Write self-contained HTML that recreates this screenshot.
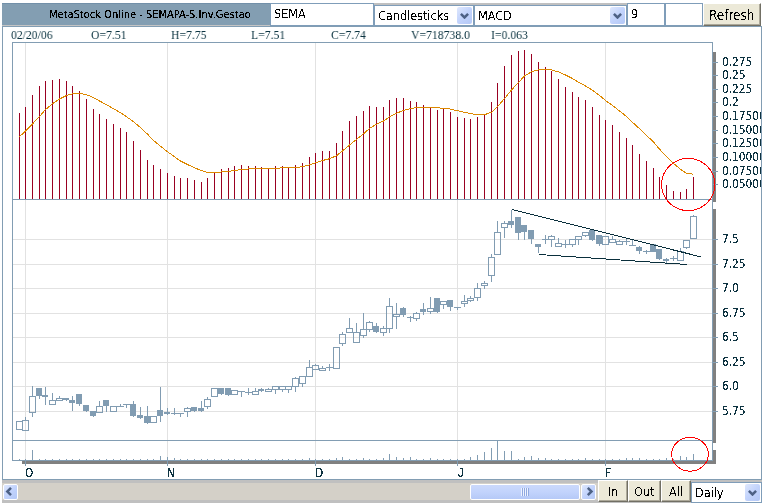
<!DOCTYPE html>
<html><head><meta charset="utf-8"><title>MetaStock Online - SEMAPA-S.Inv.Gestao</title>
<style>
*{box-sizing:border-box}
html,body{margin:0;padding:0;background:#fff}
body{width:765px;height:504px;position:relative;overflow:hidden;font-family:"DejaVu Sans Condensed","DejaVu Sans","Liberation Sans",sans-serif;}
.abs{position:absolute}
.tx{filter:url(#crisp);will-change:transform}
.title{left:2px;top:3px;width:268px;height:22px;background:#839eb2;border-top:1px solid #7290a9;font-size:11px;color:#000;}
.title span{position:absolute;left:47px;top:4px;white-space:nowrap}
.tf{background:#fff;border:1px solid #7f9db9;font-size:12.5px;color:#000}
.tf span{position:absolute;left:3px;top:2px}
.sel{background:#fff;border:1px solid #7f9db9;font-size:12.5px;color:#000}
.sel span.t{position:absolute;left:3px;top:2px;white-space:nowrap}
.dd{position:absolute;width:15px;height:17px;border-radius:2px;background:linear-gradient(135deg,#dfe8fd 0%,#c2d3fc 50%,#b4c8f6 100%);}
.dd svg{position:absolute;left:3px;top:6px}
.btn{background:#ece9d8;border-top:1px solid #fff;border-left:1px solid #fff;border-right:1px solid #716f64;border-bottom:1px solid #716f64;box-shadow:inset -1px -1px 0 #aca899;font-size:12.5px;color:#000;text-align:center}
svg text{font-family:"DejaVu Sans Condensed","DejaVu Sans",sans-serif;font-size:11.8px;fill:#0b3340}
.info{will-change:transform;transform:scaleX(0.9);transform-origin:0 0;font-family:"Liberation Serif",serif;font-size:13px;color:#0b3340;top:27px;white-space:nowrap}
</style></head><body>
<svg width="0" height="0" style="position:absolute"><filter id="crisp" x="0" y="0" width="100%" height="100%"><feComponentTransfer><feFuncA type="discrete" tableValues="0 1"/></feComponentTransfer></filter><filter id="crisp3" x="0" y="0" width="100%" height="100%"><feComponentTransfer><feFuncA type="discrete" tableValues="0 0 1 1 1"/></feComponentTransfer></filter></svg>
<div class="abs" style="left:374px;top:3px;width:253px;height:2px;background:#c0c0c0"></div>
<div class="abs" style="left:2px;top:25px;width:268px;height:1px;background:#c4c4c4"></div>
<div class="abs title"><span class="tx" style="filter:url(#crisp3)">MetaStock Online - SEMAPA-S.Inv.Gestao</span></div>
<div class="abs tf" style="left:270px;top:3px;width:104px;height:23px"><span class="tx">SEMA</span></div>
<div class="abs sel" style="left:374px;top:5px;width:100px;height:21px"><span class="t tx">Candlesticks</span>
 <div class="dd" style="left:82px;top:1px"><svg width="9" height="6" viewBox="0 0 9 6"><path d="M0.9 0.9 L4.5 4.5 L8.1 0.9" fill="none" stroke="#4d6185" stroke-width="2.5"/></svg></div></div>
<div class="abs sel" style="left:474px;top:5px;width:153px;height:21px"><span class="t tx">MACD</span>
 <div class="dd" style="left:135px;top:1px"><svg width="9" height="6" viewBox="0 0 9 6"><path d="M0.9 0.9 L4.5 4.5 L8.1 0.9" fill="none" stroke="#4d6185" stroke-width="2.5"/></svg></div></div>
<div class="abs tf" style="left:627px;top:3px;width:38px;height:23px"><span class="tx">9</span></div>
<div class="abs tf" style="left:665px;top:3px;width:38px;height:23px"></div>
<div class="abs btn" style="left:703px;top:3px;width:58px;height:23px;line-height:24px;font-size:13.4px"><span class="tx" style="display:inline-block">Refresh</span></div>
<div class="abs" style="left:2px;top:26px;width:760px;height:454px;border:1px solid #829db3;background:#fff"></div>
<div class="abs info" style="left:11px">02/20/06</div>
<div class="abs info" style="left:91px">O=7.51</div>
<div class="abs info" style="left:171px">H=7.75</div>
<div class="abs info" style="left:251px">L=7.51</div>
<div class="abs info" style="left:331px">C=7.74</div>
<div class="abs info" style="left:411px">V=718738.0</div>
<div class="abs info" style="left:491px">I=0.063</div>
<svg class="abs" style="left:0;top:0" width="765" height="504" viewBox="0 0 765 504" shape-rendering="crispEdges">
<rect x="713" y="52" width="3" height="150" fill="#808080"/>
<rect x="713" y="209" width="3" height="234" fill="#808080"/>
<rect x="713" y="450" width="3" height="14" fill="#808080"/>
<rect x="22" y="461" width="694" height="3" fill="#808080"/>
<rect x="25" y="43" width="1" height="156" fill="#e2e2e2"/>
<rect x="25" y="200" width="1" height="240" fill="#e2e2e2"/>
<rect x="25" y="441" width="1" height="19" fill="#e2e2e2"/>
<rect x="167" y="43" width="1" height="156" fill="#e2e2e2"/>
<rect x="167" y="200" width="1" height="240" fill="#e2e2e2"/>
<rect x="167" y="441" width="1" height="19" fill="#e2e2e2"/>
<rect x="315" y="43" width="1" height="156" fill="#e2e2e2"/>
<rect x="315" y="200" width="1" height="240" fill="#e2e2e2"/>
<rect x="315" y="441" width="1" height="19" fill="#e2e2e2"/>
<rect x="457" y="43" width="1" height="156" fill="#e2e2e2"/>
<rect x="457" y="200" width="1" height="240" fill="#e2e2e2"/>
<rect x="457" y="441" width="1" height="19" fill="#e2e2e2"/>
<rect x="605" y="43" width="1" height="156" fill="#e2e2e2"/>
<rect x="605" y="200" width="1" height="240" fill="#e2e2e2"/>
<rect x="605" y="441" width="1" height="19" fill="#e2e2e2"/>
<rect x="13" y="239" width="699" height="1" fill="#e2e2e2"/>
<rect x="13" y="264" width="699" height="1" fill="#e2e2e2"/>
<rect x="13" y="288" width="699" height="1" fill="#e2e2e2"/>
<rect x="13" y="313" width="699" height="1" fill="#e2e2e2"/>
<rect x="13" y="337" width="699" height="1" fill="#e2e2e2"/>
<rect x="13" y="362" width="699" height="1" fill="#e2e2e2"/>
<rect x="13" y="386" width="699" height="1" fill="#e2e2e2"/>
<rect x="13" y="411" width="699" height="1" fill="#e2e2e2"/>
<rect x="19" y="113" width="1" height="86" fill="#990022"/>
<rect x="25" y="107" width="1" height="92" fill="#990022"/>
<rect x="32" y="95" width="1" height="104" fill="#990022"/>
<rect x="39" y="86" width="1" height="113" fill="#990022"/>
<rect x="45" y="81" width="1" height="118" fill="#990022"/>
<rect x="52" y="80" width="1" height="119" fill="#990022"/>
<rect x="59" y="79" width="1" height="120" fill="#990022"/>
<rect x="66" y="81" width="1" height="118" fill="#990022"/>
<rect x="72" y="86" width="1" height="113" fill="#990022"/>
<rect x="79" y="91" width="1" height="108" fill="#990022"/>
<rect x="86" y="99" width="1" height="100" fill="#990022"/>
<rect x="93" y="109" width="1" height="90" fill="#990022"/>
<rect x="99" y="114" width="1" height="85" fill="#990022"/>
<rect x="106" y="119" width="1" height="80" fill="#990022"/>
<rect x="113" y="124" width="1" height="75" fill="#990022"/>
<rect x="120" y="128" width="1" height="71" fill="#990022"/>
<rect x="126" y="132" width="1" height="67" fill="#990022"/>
<rect x="133" y="141" width="1" height="58" fill="#990022"/>
<rect x="140" y="150" width="1" height="49" fill="#990022"/>
<rect x="147" y="160" width="1" height="39" fill="#990022"/>
<rect x="153" y="165" width="1" height="34" fill="#990022"/>
<rect x="160" y="169" width="1" height="30" fill="#990022"/>
<rect x="167" y="173" width="1" height="26" fill="#990022"/>
<rect x="174" y="176" width="1" height="23" fill="#990022"/>
<rect x="180" y="178" width="1" height="21" fill="#990022"/>
<rect x="187" y="178" width="1" height="21" fill="#990022"/>
<rect x="194" y="180" width="1" height="19" fill="#990022"/>
<rect x="201" y="182" width="1" height="17" fill="#990022"/>
<rect x="207" y="178" width="1" height="21" fill="#990022"/>
<rect x="214" y="173" width="1" height="26" fill="#990022"/>
<rect x="221" y="169" width="1" height="30" fill="#990022"/>
<rect x="228" y="168" width="1" height="31" fill="#990022"/>
<rect x="234" y="166" width="1" height="33" fill="#990022"/>
<rect x="241" y="165" width="1" height="34" fill="#990022"/>
<rect x="248" y="166" width="1" height="33" fill="#990022"/>
<rect x="255" y="166" width="1" height="33" fill="#990022"/>
<rect x="261" y="167" width="1" height="32" fill="#990022"/>
<rect x="268" y="168" width="1" height="31" fill="#990022"/>
<rect x="275" y="166" width="1" height="33" fill="#990022"/>
<rect x="282" y="166" width="1" height="33" fill="#990022"/>
<rect x="288" y="168" width="1" height="31" fill="#990022"/>
<rect x="295" y="165" width="1" height="34" fill="#990022"/>
<rect x="302" y="163" width="1" height="36" fill="#990022"/>
<rect x="309" y="157" width="1" height="42" fill="#990022"/>
<rect x="315" y="153" width="1" height="46" fill="#990022"/>
<rect x="322" y="151" width="1" height="48" fill="#990022"/>
<rect x="329" y="151" width="1" height="48" fill="#990022"/>
<rect x="336" y="143" width="1" height="56" fill="#990022"/>
<rect x="342" y="131" width="1" height="68" fill="#990022"/>
<rect x="349" y="121" width="1" height="78" fill="#990022"/>
<rect x="356" y="116" width="1" height="83" fill="#990022"/>
<rect x="363" y="111" width="1" height="88" fill="#990022"/>
<rect x="369" y="106" width="1" height="93" fill="#990022"/>
<rect x="376" y="107" width="1" height="92" fill="#990022"/>
<rect x="383" y="107" width="1" height="92" fill="#990022"/>
<rect x="389" y="100" width="1" height="99" fill="#990022"/>
<rect x="396" y="98" width="1" height="101" fill="#990022"/>
<rect x="403" y="98" width="1" height="101" fill="#990022"/>
<rect x="410" y="101" width="1" height="98" fill="#990022"/>
<rect x="416" y="102" width="1" height="97" fill="#990022"/>
<rect x="423" y="105" width="1" height="94" fill="#990022"/>
<rect x="430" y="107" width="1" height="92" fill="#990022"/>
<rect x="437" y="110" width="1" height="89" fill="#990022"/>
<rect x="443" y="109" width="1" height="90" fill="#990022"/>
<rect x="450" y="112" width="1" height="87" fill="#990022"/>
<rect x="457" y="117" width="1" height="82" fill="#990022"/>
<rect x="464" y="118" width="1" height="81" fill="#990022"/>
<rect x="470" y="119" width="1" height="80" fill="#990022"/>
<rect x="477" y="117" width="1" height="82" fill="#990022"/>
<rect x="484" y="115" width="1" height="84" fill="#990022"/>
<rect x="491" y="102" width="1" height="97" fill="#990022"/>
<rect x="497" y="83" width="1" height="116" fill="#990022"/>
<rect x="504" y="66" width="1" height="133" fill="#990022"/>
<rect x="511" y="55" width="1" height="144" fill="#990022"/>
<rect x="518" y="51" width="1" height="148" fill="#990022"/>
<rect x="524" y="50" width="1" height="149" fill="#990022"/>
<rect x="531" y="54" width="1" height="145" fill="#990022"/>
<rect x="538" y="62" width="1" height="137" fill="#990022"/>
<rect x="545" y="67" width="1" height="132" fill="#990022"/>
<rect x="551" y="71" width="1" height="128" fill="#990022"/>
<rect x="558" y="79" width="1" height="120" fill="#990022"/>
<rect x="565" y="87" width="1" height="112" fill="#990022"/>
<rect x="572" y="92" width="1" height="107" fill="#990022"/>
<rect x="578" y="97" width="1" height="102" fill="#990022"/>
<rect x="585" y="100" width="1" height="99" fill="#990022"/>
<rect x="592" y="107" width="1" height="92" fill="#990022"/>
<rect x="599" y="115" width="1" height="84" fill="#990022"/>
<rect x="605" y="120" width="1" height="79" fill="#990022"/>
<rect x="612" y="125" width="1" height="74" fill="#990022"/>
<rect x="619" y="132" width="1" height="67" fill="#990022"/>
<rect x="626" y="138" width="1" height="61" fill="#990022"/>
<rect x="632" y="145" width="1" height="54" fill="#990022"/>
<rect x="639" y="154" width="1" height="45" fill="#990022"/>
<rect x="646" y="161" width="1" height="38" fill="#990022"/>
<rect x="653" y="168" width="1" height="31" fill="#990022"/>
<rect x="659" y="177" width="1" height="22" fill="#990022"/>
<rect x="666" y="185" width="1" height="14" fill="#990022"/>
<rect x="673" y="191" width="1" height="8" fill="#990022"/>
<rect x="680" y="192" width="1" height="7" fill="#990022"/>
<rect x="686" y="189" width="1" height="10" fill="#990022"/>
<rect x="693" y="177" width="1" height="22" fill="#990022"/>
<polyline points="19.5,136.75 25.5,130.93 32.5,123.89 39.5,116.47 45.5,109.54 52.5,103.80 59.5,98.99 66.5,95.56 72.5,93.80 79.5,93.41 86.5,94.66 93.5,97.62 99.5,101.00 106.5,104.71 113.5,108.72 120.5,112.73 126.5,116.71 133.5,121.74 140.5,127.54 147.5,134.16 153.5,140.46 160.5,146.28 167.5,151.73 174.5,156.70 180.5,161.07 187.5,164.56 194.5,167.76 201.5,170.70 207.5,172.31 214.5,172.56 221.5,172.00 228.5,171.37 234.5,170.46 241.5,169.50 248.5,168.97 255.5,168.55 261.5,168.41 268.5,168.50 275.5,168.17 282.5,167.90 288.5,167.97 295.5,167.51 302.5,166.78 309.5,164.95 315.5,162.69 322.5,160.50 329.5,158.75 336.5,155.73 342.5,150.88 349.5,145.05 356.5,139.39 363.5,133.86 369.5,128.44 376.5,124.28 383.5,120.96 389.5,116.91 396.5,113.26 403.5,110.34 410.5,108.62 416.5,107.43 423.5,107.05 430.5,107.17 437.5,107.85 443.5,108.19 450.5,109.08 457.5,110.75 464.5,112.27 470.5,113.69 477.5,114.48 484.5,114.69 491.5,112.29 497.5,106.58 504.5,98.57 511.5,90.03 518.5,82.37 524.5,76.03 531.5,71.75 538.5,69.95 545.5,69.47 551.5,69.93 558.5,71.87 565.5,75.01 572.5,78.56 578.5,82.35 585.5,85.95 592.5,90.29 599.5,95.38 605.5,100.46 612.5,105.48 619.5,110.91 626.5,116.46 632.5,122.28 639.5,128.73 646.5,135.34 653.5,142.04 659.5,149.16 666.5,156.44 673.5,163.44 680.5,169.28 686.5,173.38 693.5,174.23" fill="none" stroke="#dd8800" stroke-width="1" shape-rendering="crispEdges"/>
<rect x="16.5" y="421.5" width="6" height="8" fill="none" stroke="#819cb2" stroke-width="1"/>
<rect x="25" y="417" width="1" height="3" fill="#819cb2"/>
<rect x="22.5" y="420.5" width="6" height="10" fill="none" stroke="#819cb2" stroke-width="1"/>
<rect x="32" y="386" width="1" height="10" fill="#819cb2"/>
<rect x="32" y="413" width="1" height="4" fill="#819cb2"/>
<rect x="29.5" y="396.5" width="6" height="16" fill="none" stroke="#819cb2" stroke-width="1"/>
<rect x="39" y="388" width="1" height="11" fill="#819cb2"/>
<rect x="36" y="388" width="6" height="8" fill="#819cb2"/>
<rect x="45" y="387" width="1" height="18" fill="#819cb2"/>
<rect x="42" y="395" width="6" height="2" fill="#819cb2"/>
<rect x="52" y="393" width="1" height="7" fill="#819cb2"/>
<rect x="49.5" y="400.5" width="6" height="4" fill="none" stroke="#819cb2" stroke-width="1"/>
<rect x="59" y="396" width="1" height="2" fill="#819cb2"/>
<rect x="56.5" y="398.5" width="6" height="2" fill="none" stroke="#819cb2" stroke-width="1"/>
<rect x="66" y="398" width="1" height="3" fill="#819cb2"/>
<rect x="63" y="398" width="6" height="2" fill="#819cb2"/>
<rect x="72" y="396" width="1" height="15" fill="#819cb2"/>
<rect x="69" y="400" width="6" height="3" fill="#819cb2"/>
<rect x="79" y="394" width="1" height="12" fill="#819cb2"/>
<rect x="76" y="394" width="6" height="10" fill="#819cb2"/>
<rect x="86" y="405" width="1" height="7" fill="#819cb2"/>
<rect x="83" y="405" width="6" height="6" fill="#819cb2"/>
<rect x="93" y="411" width="1" height="6" fill="#819cb2"/>
<rect x="90" y="411" width="6" height="5" fill="#819cb2"/>
<rect x="99" y="401" width="1" height="5" fill="#819cb2"/>
<rect x="96.5" y="406.5" width="6" height="6" fill="none" stroke="#819cb2" stroke-width="1"/>
<rect x="106" y="400" width="1" height="12" fill="#819cb2"/>
<rect x="103" y="400" width="6" height="6" fill="#819cb2"/>
<rect x="110.5" y="406.5" width="6" height="5" fill="none" stroke="#819cb2" stroke-width="1"/>
<rect x="120" y="404" width="1" height="2" fill="#819cb2"/>
<rect x="117" y="406" width="7" height="1" fill="#819cb2"/>
<rect x="126" y="404" width="1" height="4" fill="#819cb2"/>
<rect x="123" y="404" width="7" height="1" fill="#819cb2"/>
<rect x="133" y="401" width="1" height="16" fill="#819cb2"/>
<rect x="130" y="404" width="6" height="12" fill="#819cb2"/>
<rect x="140" y="407" width="1" height="12" fill="#819cb2"/>
<rect x="137" y="415" width="6" height="3" fill="#819cb2"/>
<rect x="147" y="406" width="1" height="18" fill="#819cb2"/>
<rect x="144" y="416" width="6" height="7" fill="#819cb2"/>
<rect x="150.5" y="416.5" width="6" height="6" fill="none" stroke="#819cb2" stroke-width="1"/>
<rect x="160" y="387" width="1" height="35" fill="#819cb2"/>
<rect x="157" y="410" width="6" height="6" fill="#819cb2"/>
<rect x="167" y="408" width="1" height="7" fill="#819cb2"/>
<rect x="164" y="412" width="6" height="2" fill="#819cb2"/>
<rect x="174" y="408" width="1" height="7" fill="#819cb2"/>
<rect x="171" y="413" width="7" height="1" fill="#819cb2"/>
<rect x="180" y="413" width="1" height="4" fill="#819cb2"/>
<rect x="177" y="413" width="7" height="1" fill="#819cb2"/>
<rect x="187" y="407" width="1" height="1" fill="#819cb2"/>
<rect x="187" y="412" width="1" height="5" fill="#819cb2"/>
<rect x="184.5" y="408.5" width="6" height="3" fill="none" stroke="#819cb2" stroke-width="1"/>
<rect x="194" y="407" width="1" height="5" fill="#819cb2"/>
<rect x="191" y="407" width="6" height="4" fill="#819cb2"/>
<rect x="201" y="401" width="1" height="11" fill="#819cb2"/>
<rect x="198" y="408" width="6" height="3" fill="#819cb2"/>
<rect x="207" y="397" width="1" height="2" fill="#819cb2"/>
<rect x="207" y="407" width="1" height="2" fill="#819cb2"/>
<rect x="204.5" y="399.5" width="6" height="7" fill="none" stroke="#819cb2" stroke-width="1"/>
<rect x="211.5" y="388.5" width="6" height="8" fill="none" stroke="#819cb2" stroke-width="1"/>
<rect x="221" y="388" width="1" height="7" fill="#819cb2"/>
<rect x="218" y="388" width="6" height="6" fill="#819cb2"/>
<rect x="228" y="388" width="1" height="8" fill="#819cb2"/>
<rect x="225" y="388" width="6" height="7" fill="#819cb2"/>
<rect x="231.5" y="390.5" width="6" height="4" fill="none" stroke="#819cb2" stroke-width="1"/>
<rect x="241" y="391" width="1" height="6" fill="#819cb2"/>
<rect x="238" y="391" width="7" height="1" fill="#819cb2"/>
<rect x="248" y="388" width="1" height="7" fill="#819cb2"/>
<rect x="245" y="392" width="7" height="1" fill="#819cb2"/>
<rect x="255" y="388" width="1" height="3" fill="#819cb2"/>
<rect x="252.5" y="391.5" width="6" height="3" fill="none" stroke="#819cb2" stroke-width="1"/>
<rect x="261" y="388" width="1" height="4" fill="#819cb2"/>
<rect x="258" y="389" width="6" height="2" fill="#819cb2"/>
<rect x="268" y="388" width="1" height="1" fill="#819cb2"/>
<rect x="265.5" y="389.5" width="6" height="2" fill="none" stroke="#819cb2" stroke-width="1"/>
<rect x="275" y="390" width="1" height="4" fill="#819cb2"/>
<rect x="272.5" y="386.5" width="6" height="3" fill="none" stroke="#819cb2" stroke-width="1"/>
<rect x="282" y="390" width="1" height="2" fill="#819cb2"/>
<rect x="279.5" y="386.5" width="6" height="3" fill="none" stroke="#819cb2" stroke-width="1"/>
<rect x="288" y="390" width="1" height="3" fill="#819cb2"/>
<rect x="285.5" y="386.5" width="6" height="3" fill="none" stroke="#819cb2" stroke-width="1"/>
<rect x="295" y="377" width="1" height="1" fill="#819cb2"/>
<rect x="295" y="387" width="1" height="5" fill="#819cb2"/>
<rect x="292.5" y="378.5" width="6" height="8" fill="none" stroke="#819cb2" stroke-width="1"/>
<rect x="302" y="384" width="1" height="3" fill="#819cb2"/>
<rect x="299.5" y="376.5" width="6" height="7" fill="none" stroke="#819cb2" stroke-width="1"/>
<rect x="309" y="360" width="1" height="7" fill="#819cb2"/>
<rect x="306.5" y="367.5" width="6" height="9" fill="none" stroke="#819cb2" stroke-width="1"/>
<rect x="315" y="364" width="1" height="1" fill="#819cb2"/>
<rect x="312.5" y="365.5" width="6" height="4" fill="none" stroke="#819cb2" stroke-width="1"/>
<rect x="322" y="366" width="1" height="2" fill="#819cb2"/>
<rect x="319.5" y="368.5" width="6" height="2" fill="none" stroke="#819cb2" stroke-width="1"/>
<rect x="329" y="364" width="1" height="7" fill="#819cb2"/>
<rect x="326" y="367" width="7" height="1" fill="#819cb2"/>
<rect x="333.5" y="347.5" width="6" height="21" fill="none" stroke="#819cb2" stroke-width="1"/>
<rect x="342" y="332" width="1" height="2" fill="#819cb2"/>
<rect x="342" y="344" width="1" height="2" fill="#819cb2"/>
<rect x="339.5" y="334.5" width="6" height="9" fill="none" stroke="#819cb2" stroke-width="1"/>
<rect x="349" y="318" width="1" height="10" fill="#819cb2"/>
<rect x="346.5" y="328.5" width="6" height="4" fill="none" stroke="#819cb2" stroke-width="1"/>
<rect x="356" y="323" width="1" height="9" fill="#819cb2"/>
<rect x="353.5" y="332.5" width="6" height="10" fill="none" stroke="#819cb2" stroke-width="1"/>
<rect x="363" y="313" width="1" height="16" fill="#819cb2"/>
<rect x="363" y="336" width="1" height="2" fill="#819cb2"/>
<rect x="360.5" y="329.5" width="6" height="6" fill="none" stroke="#819cb2" stroke-width="1"/>
<rect x="369" y="321" width="1" height="1" fill="#819cb2"/>
<rect x="369" y="330" width="1" height="2" fill="#819cb2"/>
<rect x="366.5" y="322.5" width="6" height="7" fill="none" stroke="#819cb2" stroke-width="1"/>
<rect x="376" y="323" width="1" height="10" fill="#819cb2"/>
<rect x="373" y="326" width="6" height="6" fill="#819cb2"/>
<rect x="383" y="326" width="1" height="2" fill="#819cb2"/>
<rect x="383" y="333" width="1" height="3" fill="#819cb2"/>
<rect x="380.5" y="328.5" width="6" height="4" fill="none" stroke="#819cb2" stroke-width="1"/>
<rect x="389" y="298" width="1" height="8" fill="#819cb2"/>
<rect x="389" y="329" width="1" height="4" fill="#819cb2"/>
<rect x="386.5" y="306.5" width="6" height="22" fill="none" stroke="#819cb2" stroke-width="1"/>
<rect x="396" y="303" width="1" height="11" fill="#819cb2"/>
<rect x="396" y="317" width="1" height="12" fill="#819cb2"/>
<rect x="393.5" y="314.5" width="6" height="2" fill="none" stroke="#819cb2" stroke-width="1"/>
<rect x="403" y="307" width="1" height="10" fill="#819cb2"/>
<rect x="400" y="308" width="6" height="7" fill="#819cb2"/>
<rect x="410" y="316" width="1" height="6" fill="#819cb2"/>
<rect x="407" y="317" width="7" height="1" fill="#819cb2"/>
<rect x="416" y="312" width="1" height="1" fill="#819cb2"/>
<rect x="416" y="319" width="1" height="2" fill="#819cb2"/>
<rect x="413.5" y="313.5" width="6" height="5" fill="none" stroke="#819cb2" stroke-width="1"/>
<rect x="423" y="303" width="1" height="12" fill="#819cb2"/>
<rect x="420" y="309" width="6" height="3" fill="#819cb2"/>
<rect x="430" y="297" width="1" height="11" fill="#819cb2"/>
<rect x="430" y="312" width="1" height="2" fill="#819cb2"/>
<rect x="427.5" y="308.5" width="6" height="3" fill="none" stroke="#819cb2" stroke-width="1"/>
<rect x="437" y="298" width="1" height="15" fill="#819cb2"/>
<rect x="434" y="298" width="6" height="14" fill="#819cb2"/>
<rect x="443" y="305" width="1" height="4" fill="#819cb2"/>
<rect x="440.5" y="301.5" width="6" height="3" fill="none" stroke="#819cb2" stroke-width="1"/>
<rect x="450" y="300" width="1" height="11" fill="#819cb2"/>
<rect x="447" y="300" width="6" height="7" fill="#819cb2"/>
<rect x="457" y="307" width="1" height="3" fill="#819cb2"/>
<rect x="454" y="307" width="7" height="1" fill="#819cb2"/>
<rect x="464" y="295" width="1" height="6" fill="#819cb2"/>
<rect x="464" y="304" width="1" height="3" fill="#819cb2"/>
<rect x="461.5" y="301.5" width="6" height="2" fill="none" stroke="#819cb2" stroke-width="1"/>
<rect x="470" y="296" width="1" height="2" fill="#819cb2"/>
<rect x="470" y="301" width="1" height="1" fill="#819cb2"/>
<rect x="467.5" y="298.5" width="6" height="2" fill="none" stroke="#819cb2" stroke-width="1"/>
<rect x="477" y="283" width="1" height="5" fill="#819cb2"/>
<rect x="477" y="298" width="1" height="3" fill="#819cb2"/>
<rect x="474.5" y="288.5" width="6" height="9" fill="none" stroke="#819cb2" stroke-width="1"/>
<rect x="484" y="281" width="1" height="2" fill="#819cb2"/>
<rect x="484" y="286" width="1" height="3" fill="#819cb2"/>
<rect x="481.5" y="283.5" width="6" height="2" fill="none" stroke="#819cb2" stroke-width="1"/>
<rect x="491" y="254" width="1" height="3" fill="#819cb2"/>
<rect x="491" y="276" width="1" height="6" fill="#819cb2"/>
<rect x="488.5" y="257.5" width="6" height="18" fill="none" stroke="#819cb2" stroke-width="1"/>
<rect x="497" y="221" width="1" height="11" fill="#819cb2"/>
<rect x="494.5" y="232.5" width="6" height="22" fill="none" stroke="#819cb2" stroke-width="1"/>
<rect x="504" y="221" width="1" height="2" fill="#819cb2"/>
<rect x="504" y="228" width="1" height="10" fill="#819cb2"/>
<rect x="501.5" y="223.5" width="6" height="4" fill="none" stroke="#819cb2" stroke-width="1"/>
<rect x="511" y="210" width="1" height="18" fill="#819cb2"/>
<rect x="508" y="221" width="6" height="4" fill="#819cb2"/>
<rect x="518" y="217" width="1" height="23" fill="#819cb2"/>
<rect x="515" y="217" width="6" height="16" fill="#819cb2"/>
<rect x="524" y="225" width="1" height="15" fill="#819cb2"/>
<rect x="521" y="225" width="6" height="7" fill="#819cb2"/>
<rect x="531" y="230" width="1" height="14" fill="#819cb2"/>
<rect x="528" y="230" width="6" height="9" fill="#819cb2"/>
<rect x="538" y="244" width="1" height="9" fill="#819cb2"/>
<rect x="535" y="244" width="6" height="3" fill="#819cb2"/>
<rect x="545" y="235" width="1" height="9" fill="#819cb2"/>
<rect x="542" y="239" width="7" height="1" fill="#819cb2"/>
<rect x="551" y="235" width="1" height="1" fill="#819cb2"/>
<rect x="551" y="240" width="1" height="7" fill="#819cb2"/>
<rect x="548.5" y="236.5" width="6" height="3" fill="none" stroke="#819cb2" stroke-width="1"/>
<rect x="558" y="238" width="1" height="5" fill="#819cb2"/>
<rect x="555.5" y="243.5" width="6" height="3" fill="none" stroke="#819cb2" stroke-width="1"/>
<rect x="565" y="240" width="1" height="8" fill="#819cb2"/>
<rect x="562" y="244" width="7" height="1" fill="#819cb2"/>
<rect x="572" y="245" width="1" height="2" fill="#819cb2"/>
<rect x="569.5" y="239.5" width="6" height="5" fill="none" stroke="#819cb2" stroke-width="1"/>
<rect x="578" y="240" width="1" height="5" fill="#819cb2"/>
<rect x="575.5" y="236.5" width="6" height="3" fill="none" stroke="#819cb2" stroke-width="1"/>
<rect x="585" y="236" width="1" height="1" fill="#819cb2"/>
<rect x="582.5" y="232.5" width="6" height="3" fill="none" stroke="#819cb2" stroke-width="1"/>
<rect x="592" y="229" width="1" height="12" fill="#819cb2"/>
<rect x="589" y="230" width="6" height="10" fill="#819cb2"/>
<rect x="599" y="235" width="1" height="11" fill="#819cb2"/>
<rect x="596" y="235" width="6" height="9" fill="#819cb2"/>
<rect x="602.5" y="236.5" width="6" height="8" fill="none" stroke="#819cb2" stroke-width="1"/>
<rect x="612" y="236" width="1" height="3" fill="#819cb2"/>
<rect x="609.5" y="239.5" width="6" height="3" fill="none" stroke="#819cb2" stroke-width="1"/>
<rect x="619" y="240" width="1" height="1" fill="#819cb2"/>
<rect x="616.5" y="241.5" width="6" height="3" fill="none" stroke="#819cb2" stroke-width="1"/>
<rect x="626" y="238" width="1" height="7" fill="#819cb2"/>
<rect x="623" y="241" width="7" height="1" fill="#819cb2"/>
<rect x="632" y="239" width="1" height="7" fill="#819cb2"/>
<rect x="629" y="245" width="7" height="1" fill="#819cb2"/>
<rect x="639" y="246" width="1" height="8" fill="#819cb2"/>
<rect x="636" y="247" width="6" height="4" fill="#819cb2"/>
<rect x="646" y="250" width="1" height="4" fill="#819cb2"/>
<rect x="643" y="251" width="7" height="1" fill="#819cb2"/>
<rect x="653" y="244" width="1" height="8" fill="#819cb2"/>
<rect x="650" y="244" width="6" height="8" fill="#819cb2"/>
<rect x="659" y="249" width="1" height="11" fill="#819cb2"/>
<rect x="656" y="249" width="6" height="10" fill="#819cb2"/>
<rect x="666" y="258" width="1" height="5" fill="#819cb2"/>
<rect x="663" y="259" width="6" height="2" fill="#819cb2"/>
<rect x="673" y="256" width="1" height="5" fill="#819cb2"/>
<rect x="670" y="258" width="7" height="1" fill="#819cb2"/>
<rect x="680" y="248" width="1" height="3" fill="#819cb2"/>
<rect x="677.5" y="251.5" width="6" height="9" fill="none" stroke="#819cb2" stroke-width="1"/>
<rect x="686" y="248" width="1" height="1" fill="#819cb2"/>
<rect x="683.5" y="240.5" width="6" height="7" fill="none" stroke="#819cb2" stroke-width="1"/>
<rect x="693" y="215" width="1" height="1" fill="#819cb2"/>
<rect x="690.5" y="216.5" width="6" height="22" fill="none" stroke="#819cb2" stroke-width="1"/>
<line x1="512" y1="209.4" x2="701" y2="256.9" stroke="#0a2f3c" stroke-width="1" shape-rendering="crispEdges"/>
<line x1="539" y1="254.5" x2="687" y2="264.5" stroke="#0a2f3c" stroke-width="1" shape-rendering="crispEdges"/>
<rect x="19" y="459" width="1" height="1" fill="#829db3"/>
<rect x="25" y="459" width="1" height="1" fill="#829db3"/>
<rect x="32" y="450" width="1" height="10" fill="#829db3"/>
<rect x="39" y="459" width="1" height="1" fill="#829db3"/>
<rect x="45" y="459" width="1" height="1" fill="#829db3"/>
<rect x="52" y="459" width="1" height="1" fill="#829db3"/>
<rect x="59" y="459" width="1" height="1" fill="#829db3"/>
<rect x="66" y="459" width="1" height="1" fill="#829db3"/>
<rect x="72" y="459" width="1" height="1" fill="#829db3"/>
<rect x="79" y="459" width="1" height="1" fill="#829db3"/>
<rect x="86" y="459" width="1" height="1" fill="#829db3"/>
<rect x="93" y="459" width="1" height="1" fill="#829db3"/>
<rect x="99" y="459" width="1" height="1" fill="#829db3"/>
<rect x="106" y="459" width="1" height="1" fill="#829db3"/>
<rect x="113" y="459" width="1" height="1" fill="#829db3"/>
<rect x="120" y="459" width="1" height="1" fill="#829db3"/>
<rect x="126" y="459" width="1" height="1" fill="#829db3"/>
<rect x="133" y="459" width="1" height="1" fill="#829db3"/>
<rect x="140" y="459" width="1" height="1" fill="#829db3"/>
<rect x="147" y="459" width="1" height="1" fill="#829db3"/>
<rect x="153" y="459" width="1" height="1" fill="#829db3"/>
<rect x="160" y="456" width="1" height="4" fill="#829db3"/>
<rect x="167" y="457" width="1" height="3" fill="#829db3"/>
<rect x="174" y="458" width="1" height="2" fill="#829db3"/>
<rect x="180" y="459" width="1" height="1" fill="#829db3"/>
<rect x="187" y="459" width="1" height="1" fill="#829db3"/>
<rect x="194" y="459" width="1" height="1" fill="#829db3"/>
<rect x="201" y="459" width="1" height="1" fill="#829db3"/>
<rect x="207" y="459" width="1" height="1" fill="#829db3"/>
<rect x="214" y="459" width="1" height="1" fill="#829db3"/>
<rect x="221" y="459" width="1" height="1" fill="#829db3"/>
<rect x="228" y="459" width="1" height="1" fill="#829db3"/>
<rect x="234" y="459" width="1" height="1" fill="#829db3"/>
<rect x="241" y="459" width="1" height="1" fill="#829db3"/>
<rect x="248" y="459" width="1" height="1" fill="#829db3"/>
<rect x="255" y="459" width="1" height="1" fill="#829db3"/>
<rect x="261" y="459" width="1" height="1" fill="#829db3"/>
<rect x="268" y="459" width="1" height="1" fill="#829db3"/>
<rect x="275" y="459" width="1" height="1" fill="#829db3"/>
<rect x="282" y="459" width="1" height="1" fill="#829db3"/>
<rect x="288" y="459" width="1" height="1" fill="#829db3"/>
<rect x="295" y="459" width="1" height="1" fill="#829db3"/>
<rect x="302" y="459" width="1" height="1" fill="#829db3"/>
<rect x="309" y="458" width="1" height="2" fill="#829db3"/>
<rect x="315" y="459" width="1" height="1" fill="#829db3"/>
<rect x="322" y="459" width="1" height="1" fill="#829db3"/>
<rect x="329" y="459" width="1" height="1" fill="#829db3"/>
<rect x="336" y="458" width="1" height="2" fill="#829db3"/>
<rect x="342" y="457" width="1" height="3" fill="#829db3"/>
<rect x="349" y="459" width="1" height="1" fill="#829db3"/>
<rect x="356" y="459" width="1" height="1" fill="#829db3"/>
<rect x="363" y="458" width="1" height="2" fill="#829db3"/>
<rect x="369" y="459" width="1" height="1" fill="#829db3"/>
<rect x="376" y="459" width="1" height="1" fill="#829db3"/>
<rect x="383" y="458" width="1" height="2" fill="#829db3"/>
<rect x="389" y="454" width="1" height="6" fill="#829db3"/>
<rect x="396" y="457" width="1" height="3" fill="#829db3"/>
<rect x="403" y="458" width="1" height="2" fill="#829db3"/>
<rect x="410" y="457" width="1" height="3" fill="#829db3"/>
<rect x="416" y="459" width="1" height="1" fill="#829db3"/>
<rect x="423" y="459" width="1" height="1" fill="#829db3"/>
<rect x="430" y="458" width="1" height="2" fill="#829db3"/>
<rect x="437" y="459" width="1" height="1" fill="#829db3"/>
<rect x="443" y="459" width="1" height="1" fill="#829db3"/>
<rect x="450" y="459" width="1" height="1" fill="#829db3"/>
<rect x="457" y="459" width="1" height="1" fill="#829db3"/>
<rect x="464" y="459" width="1" height="1" fill="#829db3"/>
<rect x="470" y="457" width="1" height="3" fill="#829db3"/>
<rect x="477" y="455" width="1" height="5" fill="#829db3"/>
<rect x="484" y="452" width="1" height="8" fill="#829db3"/>
<rect x="491" y="448" width="1" height="12" fill="#829db3"/>
<rect x="497" y="441" width="1" height="19" fill="#829db3"/>
<rect x="504" y="451" width="1" height="9" fill="#829db3"/>
<rect x="511" y="451" width="1" height="9" fill="#829db3"/>
<rect x="518" y="459" width="1" height="1" fill="#829db3"/>
<rect x="524" y="457" width="1" height="3" fill="#829db3"/>
<rect x="531" y="456" width="1" height="4" fill="#829db3"/>
<rect x="538" y="458" width="1" height="2" fill="#829db3"/>
<rect x="545" y="458" width="1" height="2" fill="#829db3"/>
<rect x="551" y="459" width="1" height="1" fill="#829db3"/>
<rect x="558" y="459" width="1" height="1" fill="#829db3"/>
<rect x="565" y="459" width="1" height="1" fill="#829db3"/>
<rect x="572" y="459" width="1" height="1" fill="#829db3"/>
<rect x="578" y="459" width="1" height="1" fill="#829db3"/>
<rect x="585" y="458" width="1" height="2" fill="#829db3"/>
<rect x="592" y="459" width="1" height="1" fill="#829db3"/>
<rect x="599" y="459" width="1" height="1" fill="#829db3"/>
<rect x="605" y="459" width="1" height="1" fill="#829db3"/>
<rect x="612" y="459" width="1" height="1" fill="#829db3"/>
<rect x="619" y="459" width="1" height="1" fill="#829db3"/>
<rect x="626" y="458" width="1" height="2" fill="#829db3"/>
<rect x="632" y="458" width="1" height="2" fill="#829db3"/>
<rect x="639" y="458" width="1" height="2" fill="#829db3"/>
<rect x="646" y="459" width="1" height="1" fill="#829db3"/>
<rect x="653" y="459" width="1" height="1" fill="#829db3"/>
<rect x="659" y="459" width="1" height="1" fill="#829db3"/>
<rect x="666" y="458" width="1" height="2" fill="#829db3"/>
<rect x="673" y="459" width="1" height="1" fill="#829db3"/>
<rect x="680" y="456" width="1" height="4" fill="#829db3"/>
<rect x="686" y="457" width="1" height="3" fill="#829db3"/>
<rect x="693" y="454" width="1" height="6" fill="#829db3"/>
<rect x="12.5" y="42.5" width="700" height="157" fill="none" stroke="#829db3" stroke-width="1"/>
<rect x="12.5" y="199.5" width="700" height="241" fill="none" stroke="#829db3" stroke-width="1"/>
<rect x="12.5" y="440.5" width="700" height="20" fill="none" stroke="#829db3" stroke-width="1"/>
<rect x="713" y="62" width="5" height="1" fill="#829db3"/>
<rect x="713" y="75" width="5" height="1" fill="#829db3"/>
<rect x="713" y="89" width="5" height="1" fill="#829db3"/>
<rect x="713" y="102" width="5" height="1" fill="#829db3"/>
<rect x="713" y="116" width="5" height="1" fill="#829db3"/>
<rect x="713" y="130" width="5" height="1" fill="#829db3"/>
<rect x="713" y="143" width="5" height="1" fill="#829db3"/>
<rect x="713" y="157" width="5" height="1" fill="#829db3"/>
<rect x="713" y="171" width="5" height="1" fill="#829db3"/>
<rect x="713" y="184" width="5" height="1" fill="#829db3"/>
<rect x="713" y="239" width="5" height="1" fill="#829db3"/>
<rect x="713" y="264" width="5" height="1" fill="#829db3"/>
<rect x="713" y="288" width="5" height="1" fill="#829db3"/>
<rect x="713" y="313" width="5" height="1" fill="#829db3"/>
<rect x="713" y="337" width="5" height="1" fill="#829db3"/>
<rect x="713" y="362" width="5" height="1" fill="#829db3"/>
<rect x="713" y="386" width="5" height="1" fill="#829db3"/>
<rect x="713" y="411" width="5" height="1" fill="#829db3"/>
<rect x="25" y="460" width="1" height="6" fill="#829db3"/>
<rect x="167" y="460" width="1" height="6" fill="#829db3"/>
<rect x="315" y="460" width="1" height="6" fill="#829db3"/>
<rect x="457" y="460" width="1" height="6" fill="#829db3"/>
<rect x="605" y="460" width="1" height="6" fill="#829db3"/>
<ellipse cx="688.2" cy="184.5" rx="26.6" ry="26.1" fill="none" stroke="#ff0000" stroke-width="1" shape-rendering="crispEdges"/>
<ellipse cx="690" cy="454.3" rx="18.3" ry="16.9" fill="none" stroke="#ff0000" stroke-width="1" shape-rendering="crispEdges"/>
<defs><clipPath id="cp"><rect x="0" y="0" width="761" height="504"/></clipPath></defs><g shape-rendering="auto" clip-path="url(#cp)"><g filter="url(#crisp3)"><text x="722" y="65.5" class="ax">0.275</text>
<text x="722" y="78.5" class="ax">0.25</text>
<text x="722" y="92.5" class="ax">0.225</text>
<text x="722" y="105.5" class="ax">0.2</text>
<text x="722" y="119.5" class="ax">0.17500</text>
<text x="722" y="133.5" class="ax">0.15000</text>
<text x="722" y="146.5" class="ax">0.12500</text>
<text x="722" y="160.5" class="ax">0.10000</text>
<text x="722" y="174.5" class="ax">0.07500</text>
<text x="722" y="187.5" class="ax">0.05000</text>
<text x="722" y="242.5" class="ax">7.5</text>
<text x="722" y="267.5" class="ax">7.25</text>
<text x="722" y="291.5" class="ax">7.0</text>
<text x="722" y="316.5" class="ax">6.75</text>
<text x="722" y="340.5" class="ax">6.5</text>
<text x="722" y="365.5" class="ax">6.25</text>
<text x="722" y="389.5" class="ax">6.0</text>
<text x="722" y="414.5" class="ax">5.75</text>
<text x="25" y="476.5" class="ax">O</text>
<text x="167" y="476.5" class="ax">N</text>
<text x="315" y="476.5" class="ax">D</text>
<text x="457.5" y="476.5" class="ax" style="font-family:'Liberation Sans',sans-serif;font-size:13px">J</text>
<text x="605" y="476.5" class="ax">F</text></g></g>
</svg>
<!-- bottom bar -->
<div class="abs" style="left:2px;top:480px;width:760px;height:23px;background:#c0c0c0"></div>
<div class="abs" style="left:2px;top:483px;width:596px;height:17px;background:#d4d0c8"></div>
<div class="abs" style="left:3px;top:484px;width:15px;height:16px;border-radius:2px;background:linear-gradient(135deg,#dfe8fd 0%,#c2d3fc 50%,#b4c8f6 100%);border:1px solid #fff"></div>
<svg class="abs" style="left:5px;top:486px" width="9" height="12" viewBox="0 0 9 12"><path d="M6 1.8 L2.3 5.5 L6 9.2" fill="none" stroke="#4d6185" stroke-width="2.5"/></svg>
<div class="abs" style="left:470px;top:484px;width:110px;height:16px;border-radius:2px;background:linear-gradient(180deg,#cbd9fc 0%,#c2d3fc 50%,#b5c9f7 100%);border:1px solid #fff"></div>
<svg class="abs" style="left:521px;top:488px" width="8" height="8" viewBox="0 0 8 8" shape-rendering="crispEdges"><path d="M0.5 0v8M2.5 0v8M4.5 0v8M6.5 0v8" stroke="#eef3fe" stroke-width="1"/><path d="M1.5 0v8M3.5 0v8M5.5 0v8M7.5 0v8" stroke="#8fa8e0" stroke-width="1"/></svg>
<div class="abs" style="left:581px;top:484px;width:15px;height:16px;border-radius:2px;background:linear-gradient(135deg,#dfe8fd 0%,#c2d3fc 50%,#b4c8f6 100%);border:1px solid #fff"></div>
<svg class="abs" style="left:585px;top:486px" width="9" height="12" viewBox="0 0 9 12"><path d="M2.8 1.8 L6.5 5.5 L2.8 9.2" fill="none" stroke="#4d6185" stroke-width="2.5"/></svg>
<div class="abs btn" style="left:598px;top:480px;width:30px;height:22px;line-height:21px"><span class="tx" style="display:inline-block">In</span></div>
<div class="abs btn" style="left:628px;top:480px;width:33px;height:22px;line-height:21px"><span class="tx" style="display:inline-block">Out</span></div>
<div class="abs btn" style="left:661px;top:480px;width:30px;height:22px;line-height:21px"><span class="tx" style="display:inline-block">All</span></div>
<div class="abs sel" style="left:691px;top:482px;width:71px;height:21px"><span class="t tx">Daily</span>
 <div class="dd" style="left:53px;top:1px"><svg width="9" height="6" viewBox="0 0 9 6"><path d="M0.9 0.9 L4.5 4.5 L8.1 0.9" fill="none" stroke="#4d6185" stroke-width="2.5"/></svg></div></div>
</body></html>
